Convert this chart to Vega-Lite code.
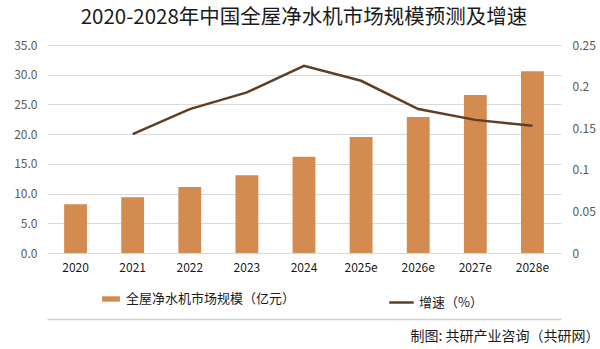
{
  "$schema": "https://vega.github.io/schema/vega-lite/v6.json",
  "width": 514,
  "height": 208,
  "autosize": {"type": "none"},
  "padding": {"left": 47, "top": 45, "right": 39, "bottom": 96},
  "background": "white",
  "config": {
    "font": "Noto Sans CJK SC",
    "view": {"stroke": null}
  },
  "title": {
    "text": "2020-2028年中国全屋净水机市场规模预测及增速",
    "fontSize": 20.5,
    "fontWeight": "normal",
    "color": "#1a1a1a",
    "anchor": "middle",
    "offset": 11
  },
  "data": {
    "values": [
      {"year": "2020", "size": 8.2, "growth": null},
      {"year": "2021", "size": 9.4, "growth": 0.143},
      {"year": "2022", "size": 11.1, "growth": 0.173},
      {"year": "2023", "size": 13.1, "growth": 0.193},
      {"year": "2024", "size": 16.2, "growth": 0.225},
      {"year": "2025e", "size": 19.5, "growth": 0.207},
      {"year": "2026e", "size": 22.9, "growth": 0.173},
      {"year": "2027e", "size": 26.6, "growth": 0.16},
      {"year": "2028e", "size": 30.6, "growth": 0.153}
    ]
  },
  "encoding": {
    "x": {
      "field": "year",
      "type": "ordinal",
      "sort": null,
      "scale": {"paddingInner": 0.6, "paddingOuter": 0.3}
    }
  },
  "layer": [
    {
      "mark": {"type": "bar"},
      "encoding": {
        "x": {
          "field": "year",
          "type": "ordinal",
          "sort": null,
          "axis": {
            "title": null,
            "labelAngle": 0,
            "labelFontSize": 12,
            "labelColor": "#1a1a1a",
            "labelPadding": 9,
            "ticks": false,
            "domain": false
          }
        },
        "y": {
          "field": "size",
          "type": "quantitative",
          "scale": {"domain": [0, 35]},
          "axis": {
            "title": null,
            "values": [0, 5, 10, 15, 20, 25, 30, 35],
            "format": ".1f",
            "labelFontSize": 12,
            "labelColor": "#595959",
            "labelPadding": 10,
            "ticks": false,
            "domain": false,
            "gridColor": "#d9d9d9",
            "gridWidth": 1
          }
        },
        "color": {
          "datum": "全屋净水机市场规模（亿元）",
          "scale": {"range": ["#D38B4F"]},
          "legend": {
            "title": null,
            "orient": "none",
            "legendX": 54,
            "legendY": 244,
            "symbolType": "M-1,-0.3H1V0.3H-1Z",
            "symbolSize": 320,
            "labelFontSize": 13,
            "labelColor": "#1a1a1a",
            "labelOffset": 5,
            "labelLimit": 400
          }
        }
      }
    },
    {
      "mark": {"type": "line", "strokeWidth": 2.5},
      "encoding": {
        "x": {
          "field": "year",
          "type": "ordinal",
          "sort": null,
          "axis": {
            "orient": "bottom",
            "offset": 66,
            "labels": false,
            "ticks": false,
            "grid": false,
            "domain": true,
            "domainColor": "#d0d0d0",
            "domainWidth": 1.5,
            "title": "制图: 共研产业咨询（共研网）",
            "titleFontSize": 14,
            "titleFontWeight": "normal",
            "titleColor": "#1a1a1a",
            "titleAnchor": "end",
            "titleAlign": "right",
            "titleX": 552,
            "titlePadding": 10
          }
        },
        "y": {
          "field": "growth",
          "type": "quantitative",
          "scale": {"domain": [0, 0.25]},
          "axis": {
            "title": null,
            "orient": "right",
            "values": [0, 0.05, 0.1, 0.15, 0.2, 0.25],
            "format": "~g",
            "labelFontSize": 12,
            "labelColor": "#595959",
            "labelPadding": 11,
            "ticks": false,
            "domain": false,
            "grid": false
          }
        },
        "stroke": {
          "datum": "增速（%）",
          "scale": {"range": ["#5E3F26"]},
          "legend": {
            "title": null,
            "orient": "none",
            "legendX": 341,
            "legendY": 244,
            "symbolType": "stroke",
            "symbolSize": 600,
            "symbolStrokeWidth": 2.5,
            "labelFontSize": 13,
            "labelColor": "#1a1a1a",
            "labelOffset": 4
          }
        }
      }
    }
  ],
  "resolve": {"scale": {"y": "independent"}, "axis": {"x": "independent"}}
}
